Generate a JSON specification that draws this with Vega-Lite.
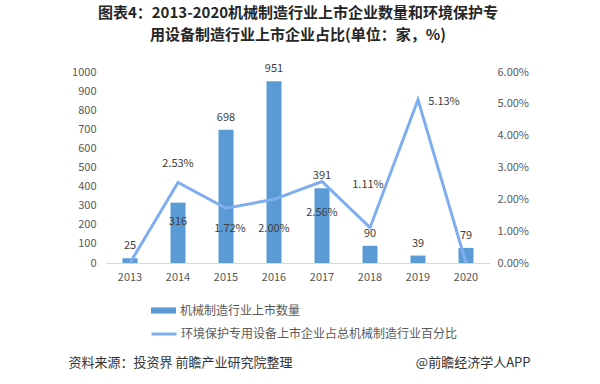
{
  "$schema": "https://vega.github.io/schema/vega-lite/v6.json",
  "width": 384,
  "height": 191,
  "autosize": {"type": "none"},
  "padding": {"left": 106, "top": 72, "right": 110, "bottom": 121},
  "background": "white",
  "config": {
    "view": {"stroke": null},
    "font": "Noto Sans CJK SC",
    "axis": {"labelFont": "Noto Sans CJK SC", "titleFont": "Noto Sans CJK SC"},
    "legend": {"labelFont": "Noto Sans CJK SC"}
  },
  "title": {
    "text": ["图表4：2013-2020机械制造行业上市企业数量和环境保护专", "用设备制造行业上市企业占比(单位：家，%)"],
    "anchor": "middle",
    "frame": "group",
    "fontSize": 15,
    "fontWeight": "bold",
    "color": "#262626",
    "lineHeight": 22,
    "offset": 20
  },
  "data": {
    "values": [
      {"year": "2013", "count": 25, "pct": 0.0},
      {"year": "2014", "count": 316, "pct": 0.0253},
      {"year": "2015", "count": 698, "pct": 0.0172},
      {"year": "2016", "count": 951, "pct": 0.0200},
      {"year": "2017", "count": 391, "pct": 0.0256},
      {"year": "2018", "count": 90, "pct": 0.0111},
      {"year": "2019", "count": 39, "pct": 0.0513},
      {"year": "2020", "count": 79, "pct": 0.0}
    ]
  },
  "encoding": {
    "x": {
      "field": "year",
      "type": "nominal",
      "scale": {"type": "band", "paddingInner": 0.6875, "paddingOuter": 0.34375},
      "axis": {
        "title": null,
        "labelAngle": 0,
        "labelFontSize": 11,
        "labelColor": "#595959",
        "labelPadding": 8,
        "ticks": false,
        "domainColor": "#D9D9D9",
        "domainWidth": 1
      }
    }
  },
  "layer": [
    {
      "encoding": {
        "y": {
          "field": "count",
          "type": "quantitative",
          "scale": {"domain": [0, 1000], "nice": false},
          "axis": {
            "orient": "left",
            "values": [0, 100, 200, 300, 400, 500, 600, 700, 800, 900, 1000],
            "format": "d",
            "grid": false,
            "domain": false,
            "ticks": false,
            "labelFontSize": 11,
            "labelColor": "#595959",
            "labelPadding": 10,
            "title": "资料来源：投资界 前瞻产业研究院整理",
            "titleAngle": 0,
            "titleX": -38,
            "titleY": 290,
            "titleAlign": "left",
            "titleBaseline": "middle",
            "titleFontSize": 13,
            "titleFontWeight": "normal",
            "titleColor": "#333333"
          }
        }
      },
      "layer": [
        {
          "mark": {"type": "bar"},
          "encoding": {
            "fill": {
              "datum": "机械制造行业上市数量",
              "type": "nominal",
              "scale": {"range": ["#5B9BD5"]},
              "legend": {
                "title": null,
                "orient": "none",
                "legendX": 44,
                "legendY": 225,
                "symbolType": "M-1,-0.25H1V0.25H-1Z",
                "symbolSize": 625,
                "labelFontSize": 12,
                "labelColor": "#595959",
                "labelOffset": 3,
                "labelLimit": 0
              }
            }
          }
        },
        {
          "transform": [{"filter": "datum.year != '2014'"}],
          "mark": {"type": "text", "dy": -12, "fontSize": 11, "color": "#404040", "baseline": "middle"},
          "encoding": {"text": {"field": "count", "type": "quantitative"}}
        },
        {
          "transform": [{"filter": "datum.year == '2014'"}],
          "mark": {"type": "text", "dy": 19, "fontSize": 11, "color": "#404040", "baseline": "middle"},
          "encoding": {"text": {"field": "count", "type": "quantitative"}}
        }
      ]
    },
    {
      "encoding": {
        "y": {
          "field": "pct",
          "type": "quantitative",
          "scale": {"domain": [0, 0.06], "nice": false},
          "axis": {
            "orient": "right",
            "values": [0, 0.01, 0.02, 0.03, 0.04, 0.05, 0.06],
            "format": ".2%",
            "grid": false,
            "domain": false,
            "ticks": false,
            "labelFontSize": 11,
            "labelColor": "#595959",
            "labelPadding": 7,
            "title": "@前瞻经济学人APP",
            "titleAngle": 0,
            "titleX": 40,
            "titleY": 290,
            "titleAlign": "right",
            "titleBaseline": "middle",
            "titleFontSize": 13,
            "titleFontWeight": "normal",
            "titleColor": "#333333"
          }
        }
      },
      "layer": [
        {
          "mark": {"type": "line", "strokeWidth": 3},
          "encoding": {
            "stroke": {
              "datum": "环境保护专用设备上市企业占总机械制造行业百分比",
              "type": "nominal",
              "scale": {"range": ["#7FAEF0"]},
              "legend": {
                "title": null,
                "orient": "none",
                "legendX": 44,
                "legendY": 248,
                "symbolType": "stroke",
                "symbolSize": 625,
                "symbolStrokeWidth": 3,
                "labelFontSize": 12,
                "labelColor": "#595959",
                "labelOffset": 3,
                "labelLimit": 0
              }
            }
          }
        },
        {
          "transform": [{"filter": "datum.year == '2014'"}],
          "mark": {"type": "text", "dy": -18, "fontSize": 11, "color": "#404040", "baseline": "middle"},
          "encoding": {"text": {"field": "pct", "type": "quantitative", "format": ".2%"}}
        },
        {
          "transform": [{"filter": "datum.year == '2015'"}],
          "mark": {"type": "text", "dx": 4, "dy": 21, "fontSize": 11, "color": "#404040", "baseline": "middle"},
          "encoding": {"text": {"field": "pct", "type": "quantitative", "format": ".2%"}}
        },
        {
          "transform": [{"filter": "datum.year == '2016'"}],
          "mark": {"type": "text", "dy": 30, "fontSize": 11, "color": "#404040", "baseline": "middle"},
          "encoding": {"text": {"field": "pct", "type": "quantitative", "format": ".2%"}}
        },
        {
          "transform": [{"filter": "datum.year == '2017'"}],
          "mark": {"type": "text", "dy": 31, "fontSize": 11, "color": "#404040", "baseline": "middle"},
          "encoding": {"text": {"field": "pct", "type": "quantitative", "format": ".2%"}}
        },
        {
          "transform": [{"filter": "datum.year == '2018'"}],
          "mark": {"type": "text", "dx": -2, "dy": -43, "fontSize": 11, "color": "#404040", "baseline": "middle"},
          "encoding": {"text": {"field": "pct", "type": "quantitative", "format": ".2%"}}
        },
        {
          "transform": [{"filter": "datum.year == '2019'"}],
          "mark": {"type": "text", "dx": 26, "dy": 2, "fontSize": 11, "color": "#404040", "baseline": "middle"},
          "encoding": {"text": {"field": "pct", "type": "quantitative", "format": ".2%"}}
        }
      ]
    }
  ],
  "resolve": {"scale": {"y": "independent", "fill": "independent", "stroke": "independent"}}
}
